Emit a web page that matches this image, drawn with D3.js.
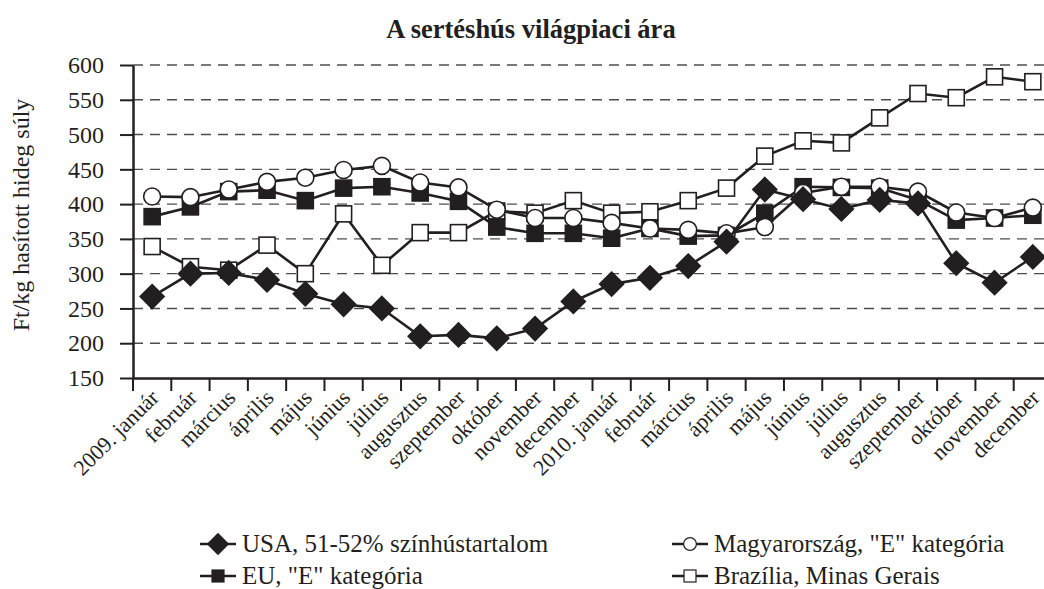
<!DOCTYPE html>
<html>
<head>
<meta charset="utf-8">
<script src="https://d3js.org/d3.v7.min.js"></script>
<style>
  body { margin: 0; background: #fff; }
</style>
</head>
<body>
<div id="chart"></div>
<script>
// havi árak, Ft/kg hasított hideg súly
var months = ["2009. január","február","március","április","május","június","július","augusztus","szeptember","október","november","december",
              "2010. január","február","március","április","május","június","július","augusztus","szeptember","október","november","december"];
var usa = [267,300,301,291,271,256,250,210,212,207,221,260,285,294,311,346,421,407,393,406,401,315,287,324];
var hun = [411,410,421,432,438,449,455,431,424,392,380,380,373,365,363,358,367,416,425,425,418,388,380,395];
var eu  = [382,396,418,420,405,423,425,416,404,367,358,358,351,365,354,355,387,425,424,423,406,377,380,384];
var bra = [339,310,305,341,300,386,312,359,359,390,387,405,387,389,405,423,469,491,488,524,559,553,583,576];
var yTicks = [150,200,250,300,350,400,450,500,550,600];

var W = 1044, H = 589;
var ink = "#231f20";
var serif = "'Liberation Serif', 'Times New Roman', Times, serif";

var svg = d3.select("#chart").append("svg").attr("width",W).attr("height",H);

var x = d3.scaleBand().domain(d3.range(months.length)).range([133,1052]);
var y = d3.scaleLinear().domain([150,600]).range([378,65]);

svg.append("text").text("A sertéshús világpiaci ára")
  .attr("x",531).attr("y",38).attr("text-anchor","middle").attr("fill",ink)
  .style("font-family",serif).style("font-size","26.5px").style("font-weight","bold");

svg.append("text").text("Ft/kg hasított hideg súly")
  .attr("transform","translate(29,215) rotate(-90)").attr("fill",ink)
  .attr("text-anchor","middle").style("font-family",serif).style("font-size","24px");

// rácsvonalak
svg.append("g").selectAll("line").data(yTicks.slice(1)).enter().append("line")
  .attr("x1",133).attr("x2",W).attr("y1",d => y(d)).attr("y2",d => y(d))
  .attr("stroke","#4d4d4d").attr("stroke-width",1.4).attr("stroke-dasharray","10,7");

// y tengely
var yAxis = svg.append("g").attr("transform","translate(133,0)")
  .call(d3.axisLeft(y).tickValues(yTicks).tickSize(13).tickPadding(16).tickSizeOuter(0));
yAxis.attr("font-family",null).attr("font-size",null);
yAxis.selectAll("line").attr("stroke",ink).attr("stroke-width",2);
yAxis.select(".domain").attr("stroke",ink).attr("stroke-width",2.5);
yAxis.selectAll("text").attr("fill",ink).style("font-family",serif).style("font-size","24px");

// x tengely
var xAxis = svg.append("g").attr("transform","translate(0,378)")
  .call(d3.axisBottom(x).tickSize(0).tickFormat(i => months[i]));
xAxis.attr("font-family",null).attr("font-size",null);
xAxis.select(".domain").attr("stroke",ink).attr("stroke-width",2.5);
xAxis.selectAll("text")
  .attr("fill",ink).style("font-family",serif).style("font-size","22px")
  .attr("text-anchor","end").attr("dy",null).attr("y",0)
  .attr("transform","translate(8,21) rotate(-45)");
svg.append("g").selectAll("line").data(d3.range(months.length+1)).enter().append("line")
  .attr("x1",d => 133 + d*x.step()).attr("x2",d => 133 + d*x.step())
  .attr("y1",378).attr("y2",391).attr("stroke",ink).attr("stroke-width",2);

var series = [
  {name:"Brazília, Minas Gerais", values:bra, shape:"square", fill:"#fff"},
  {name:"EU, \"E\" kategória", values:eu, shape:"square", fill:ink},
  {name:"Magyarország, \"E\" kategória", values:hun, shape:"circle", fill:"#fff"},
  {name:"USA, 51-52% színhústartalom", values:usa, shape:"diamond", fill:ink}
];

var line = d3.line().x((d,i) => x(i) + x.bandwidth()/2).y(d => y(d));

function marker(g, s) {
  if (s.shape == "circle")
    g.append("circle").attr("r",8.5);
  else if (s.shape == "square")
    g.append("rect").attr("x",-8).attr("y",-8).attr("width",16).attr("height",16);
  else
    g.append("path").attr("d","M0,-12L12,0L0,12L-12,0Z");
  g.selectAll("*").attr("fill",s.fill).attr("stroke",ink).attr("stroke-width",1.6);
}

series.forEach(function(s){
  svg.append("path").datum(s.values).attr("d",line)
    .attr("fill","none").attr("stroke",ink).attr("stroke-width",2.6);
  svg.append("g").selectAll("g").data(s.values).enter().append("g")
    .attr("transform",(d,i) => "translate(" + (x(i) + x.bandwidth()/2) + "," + y(d) + ")")
    .each(function(){ marker(d3.select(this), s); });
});

// jelmagyarázat
var legendPos = [
  {s:series[3], x:218, y:544},
  {s:series[2], x:690, y:544},
  {s:series[1], x:218, y:576},
  {s:series[0], x:690, y:576}
];
legendPos.forEach(function(p){
  var g = svg.append("g").attr("transform","translate(" + p.x + "," + p.y + ")");
  g.append("line").attr("x1",-18).attr("x2",18).attr("stroke",ink).attr("stroke-width",2.6);
  var m = g.append("g").attr("transform", p.s.shape == "diamond" ? "scale(0.85)" : "scale(0.75)");
  marker(m, p.s);
  g.append("text").text(p.s.name).attr("x",24).attr("y",8).attr("fill",ink)
    .style("font-family",serif).style("font-size","25px");
});
</script>
</body>
</html>
